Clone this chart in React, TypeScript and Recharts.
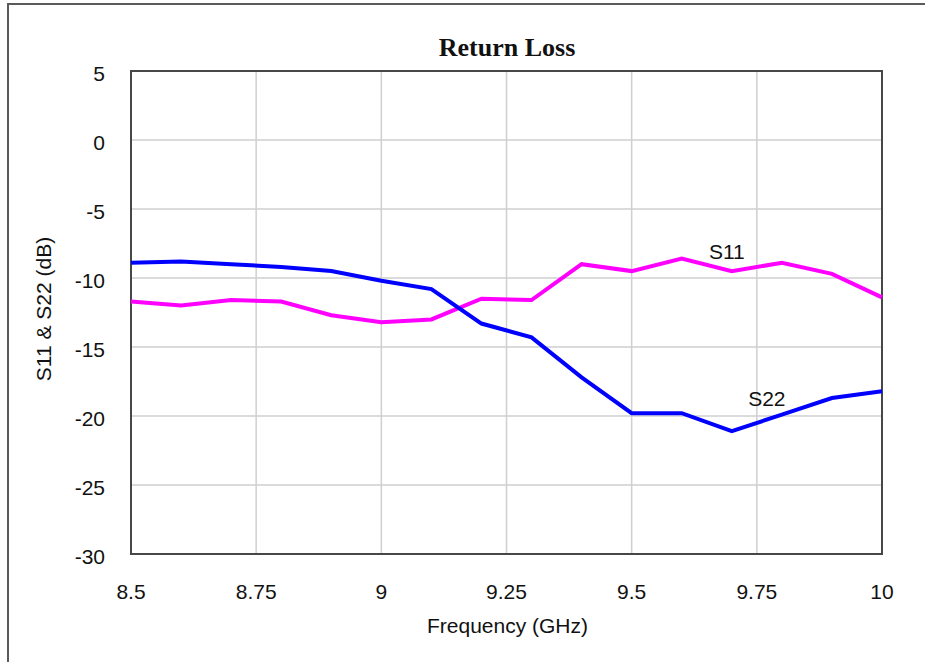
import React from "react";
import {
  CartesianGrid,
  Label,
  Line,
  LineChart,
  ReferenceArea,
  ReferenceDot,
  XAxis,
  YAxis,
} from "recharts";

// Frequency sweep (GHz) and measured return loss (dB)
const frequency = [8.5, 8.6, 8.7, 8.8, 8.9, 9.0, 9.1, 9.2, 9.3, 9.4, 9.5, 9.6, 9.7, 9.8, 9.9, 10.0];
const s11 = [-11.7, -12.0, -11.6, -11.7, -12.7, -13.2, -13.0, -11.5, -11.6, -9.0, -9.5, -8.6, -9.5, -8.9, -9.7, -11.4];
const s22 = [-8.9, -8.8, -9.0, -9.2, -9.5, -10.2, -10.8, -13.3, -14.3, -17.2, -19.8, -19.8, -21.1, -19.9, -18.7, -18.2];

const xTicks = [8.5, 8.75, 9, 9.25, 9.5, 9.75, 10];
const yTicks = [-30, -25, -20, -15, -10, -5, 0, 5];

const data = frequency.map((f, i) => ({ f, s11: s11[i], s22: s22[i] }));

const SANS = "'Liberation Sans', Arial, sans-serif";
const tickStyle = { fill: "#111", fontSize: 21, fontFamily: SANS };

const App: React.FC = () => {
  return (
    <div style={{ position: "relative", width: 925, height: 662, overflow: "hidden", background: "#fff" }}>
      <style>{"body{margin:0;overflow:hidden}"}</style>

      {/* outer frame */}
      <div
        style={{
          position: "absolute",
          left: 7,
          top: 3,
          width: 1000,
          height: 800,
          border: "2px solid #5a5a5a",
        }}
      />

      <svg width={925} height={662} style={{ position: "absolute", left: 0, top: 0 }}>
        <text
          x={507}
          y={56}
          textAnchor="middle"
          fontFamily="'Liberation Serif', 'Times New Roman', serif"
          fontWeight="bold"
          fontSize={26}
          fill="#111"
        >
          Return Loss
        </text>
      </svg>

      <div style={{ position: "absolute", left: 0, top: 0 }}>
        <LineChart
          width={925}
          height={662}
          data={data}
          margin={{ top: 71, right: 43, bottom: 0, left: 0 }}
        >
          <CartesianGrid stroke="#cfcfcf" strokeWidth={1.5} />
          <XAxis
            dataKey="f"
            type="number"
            domain={[8.5, 10]}
            ticks={xTicks}
            tickLine={false}
            axisLine={false}
            tickSize={0}
            tickMargin={30}
            tick={tickStyle}
            height={108}
          >
            <Label
              content={() => (
                <text x={507.5} y={633} textAnchor="middle" fontFamily={SANS} fontSize={21} fill="#111">
                  Frequency (GHz)
                </text>
              )}
            />
          </XAxis>
          <YAxis
            type="number"
            domain={[-30, 5]}
            ticks={yTicks}
            tickLine={false}
            axisLine={false}
            tickSize={0}
            tickMargin={26}
            tick={{ ...tickStyle, dy: 3 }}
            width={131}
          >
            <Label
              content={() => (
                <text
                  x={43}
                  y={309}
                  transform="rotate(-90 43 309)"
                  textAnchor="middle"
                  dominantBaseline="central"
                  fontFamily={SANS}
                  fontSize={21}
                  fill="#111"
                >
                  S11 &amp; S22 (dB)
                </text>
              )}
            />
          </YAxis>

          <ReferenceArea
            x1={8.5}
            x2={10}
            y1={-30}
            y2={5}
            fill="none"
            fillOpacity={0}
            stroke="#474747"
            strokeWidth={2}
          />

          <Line
            dataKey="s11"
            type="linear"
            stroke="#ff00ff"
            strokeWidth={4}
            dot={false}
            isAnimationActive={false}
          />
          <Line
            dataKey="s22"
            type="linear"
            stroke="#0000ff"
            strokeWidth={4}
            dot={false}
            isAnimationActive={false}
          />

          <ReferenceDot
            x={9.69}
            y={-8.1}
            r={0}
            stroke="none"
            label={{ value: "S11", position: "center", fontSize: 21, fontFamily: SANS, fill: "#111" }}
          />
          <ReferenceDot
            x={9.77}
            y={-18.7}
            r={0}
            stroke="none"
            label={{ value: "S22", position: "center", fontSize: 21, fontFamily: SANS, fill: "#111" }}
          />
        </LineChart>
      </div>
    </div>
  );
};

export default App;
